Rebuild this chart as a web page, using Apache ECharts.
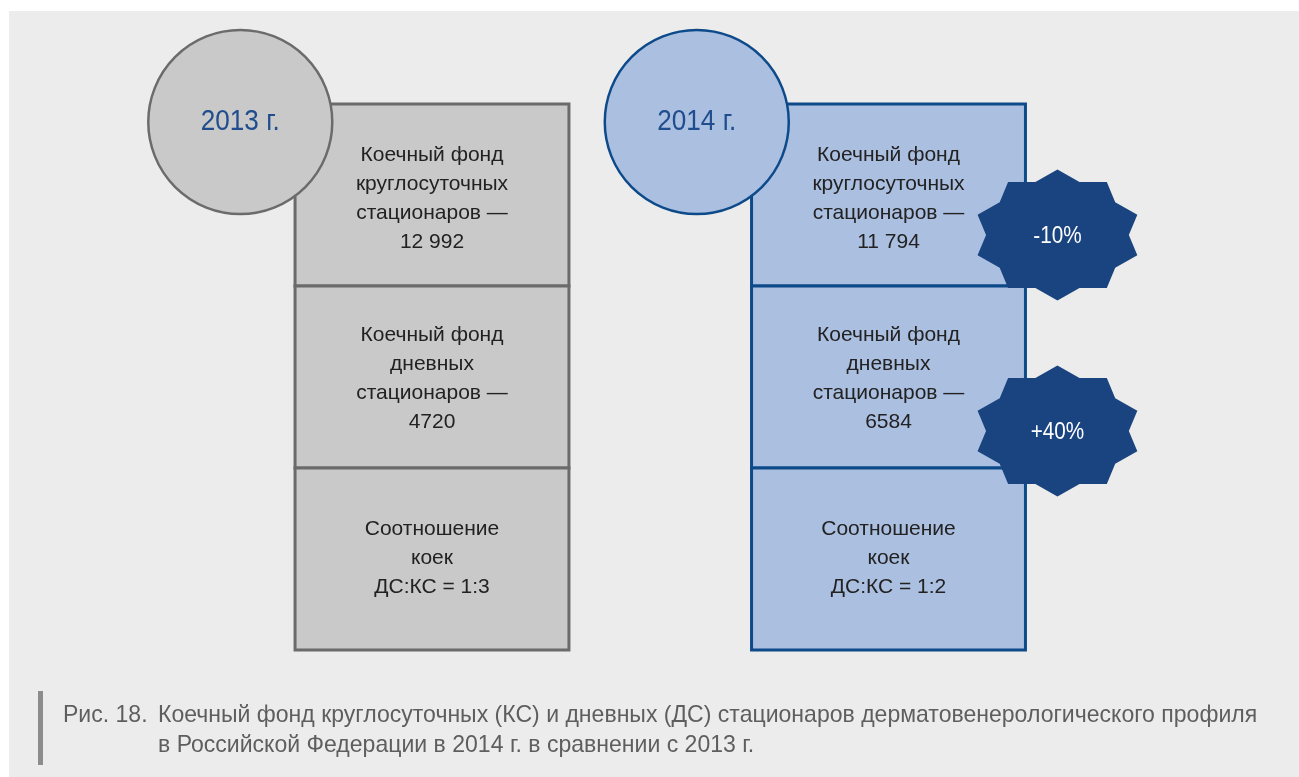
<!DOCTYPE html>
<html lang="ru">
<head>
<meta charset="UTF-8">
<title>Коечный фонд</title>
<style>
  html, body { margin: 0; padding: 0; background: #fff; }
  #chart { width: 1299px; height: 777px; }
</style>
<script src="https://cdn.jsdelivr.net/npm/echarts@6/dist/echarts.min.js"></script>
</head>
<body>
<div id="chart"></div>
<script>
// данные
const years = ['2013 г.', '2014 г.'];
const rows = ['Коечный фонд\nкруглосуточных\nстационаров —', 'Коечный фонд\nдневных\nстационаров —', 'Соотношение\nкоек'];
const roundClockBeds = [12992, 11794];
const dayBeds = [4720, 6584];
const ratios = ['ДС:КС = 1:3', 'ДС:КС = 1:2'];
const changes = ['-10%', '+40%'];
const captionNum = 'Рис. 18.';
const captionLines = ['Коечный фонд круглосуточных (КС) и дневных (ДС) стационаров дерматовенерологического профиля',
    'в Российской Федерации в 2014 г. в сравнении с 2013 г.'];

const FONT = '"Liberation Sans", Arial, sans-serif';
const palette = [
    { fill: '#c8c9c8', stroke: '#6b6b6b' },
    { fill: '#abbfe1', stroke: '#0d4a8a' }
];
const starDy = [131, 145];     // сдвиг звезды от верха строки
const textDy = [3.5, 1.5, -1]; // подгонка текста в строках

function fmt(n) {
    return n >= 10000 ? String(n).replace(/\B(?=(\d{3})+(?!\d))/g, ' ') : String(n);
}

// ячейки: [год, строка]
const cellData = [], cellText = [];
years.forEach((y, i) => {
    cellData.push([i, 0]); cellText.push(rows[0] + '\n' + fmt(roundClockBeds[i]));
    cellData.push([i, 1]); cellText.push(rows[1] + '\n' + fmt(dayBeds[i]));
    cellData.push([i, 2]); cellText.push(rows[2] + '\n' + ratios[i]);
});

function renderCell(params, api) {
    const c = api.coord([api.value(0), api.value(1)]);
    const s = api.size([1, 1]);
    const w = s[0] * 0.6, h = s[1];
    const p = palette[api.value(0)];
    return {
        type: 'group',
        children: [
            { type: 'rect', shape: { x: c[0] - w / 2, y: c[1] - h / 2, width: w, height: h },
              style: { fill: p.fill, stroke: p.stroke, lineWidth: 3 } },
            { type: 'text', x: c[0], y: c[1] + textDy[api.value(1)],
              style: { text: cellText[params.dataIndex], fill: '#222', fontSize: 21, fontFamily: FONT,
                       align: 'center', verticalAlign: 'middle', lineHeight: 29 } }
        ]
    };
}

function renderYear(params, api) {
    const i = api.value(0);
    const c = api.coord([i, 0]);
    const s = api.size([1, 1]);
    const cx = c[0] - s[0] * 0.42, cy = c[1] - s[1] / 2 + 18;
    const p = palette[i];
    return {
        type: 'group',
        children: [
            { type: 'circle', shape: { cx: cx, cy: cy, r: 92 },
              style: { fill: p.fill, stroke: p.stroke, lineWidth: 2.5 } },
            { type: 'text', x: cx, y: cy, scaleX: 0.9,
              style: { text: years[i], fill: '#1f4d8e', fontSize: 29, fontFamily: FONT,
                       align: 'center', verticalAlign: 'middle' } }
        ]
    };
}

function renderStar(params, api) {
    const c = api.coord([api.value(0), api.value(1)]);
    const s = api.size([1, 1]);
    const cx = c[0] + s[0] * 0.3 + 32;
    const cy = c[1] - s[1] / 2 + starDy[params.dataIndex];
    const pts = [];
    for (let k = 0; k < 20; k++) {
        const a = k * Math.PI / 10;
        const r = k % 2 ? 0.85 : 1;
        pts.push([cx + 84 * r * Math.sin(a), cy - 65.5 * r * Math.cos(a)]);
    }
    return {
        type: 'group',
        children: [
            { type: 'polygon', shape: { points: pts }, style: { fill: '#1a4480' } },
            { type: 'text', x: cx, y: cy + 2, scaleX: 0.9,
              style: { text: changes[params.dataIndex], fill: '#fff', fontSize: 23, fontFamily: FONT,
                       align: 'center', verticalAlign: 'middle' } }
        ]
    };
}

const capStyle = { fill: '#5e5e5e', fontSize: 24, fontFamily: FONT, verticalAlign: 'middle' };

const chart = echarts.init(document.getElementById('chart'));
chart.setOption({
    backgroundColor: '#fff',
    animation: false,
    grid: { left: 203.75, right: 182.25, top: 104, bottom: 127 },
    xAxis: { type: 'category', data: years, show: false },
    yAxis: { type: 'category', data: ['r0', 'r1', 'r2'], inverse: true, show: false },
    graphic: [
        { type: 'rect', z: -10, shape: { x: 9, y: 11, width: 1290, height: 766 }, style: { fill: '#ececec' } },
        { type: 'rect', shape: { x: 38, y: 691, width: 5, height: 74 }, style: { fill: '#8c8c8c' } },
        { type: 'text', x: 63, y: 715, scaleX: 0.96, style: Object.assign({ text: captionNum }, capStyle) },
        { type: 'text', x: 158, y: 715, scaleX: 0.96, style: Object.assign({ text: captionLines[0] }, capStyle) },
        { type: 'text', x: 158, y: 745, scaleX: 0.96, style: Object.assign({ text: captionLines[1] }, capStyle) }
    ],
    series: [
        { type: 'custom', z: 2, renderItem: renderCell, data: cellData },
        { type: 'custom', z: 3, renderItem: renderYear, data: [[0], [1]] },
        { type: 'custom', z: 4, renderItem: renderStar, data: [[1, 0], [1, 1]] }
    ]
});
</script>
</body>
</html>
